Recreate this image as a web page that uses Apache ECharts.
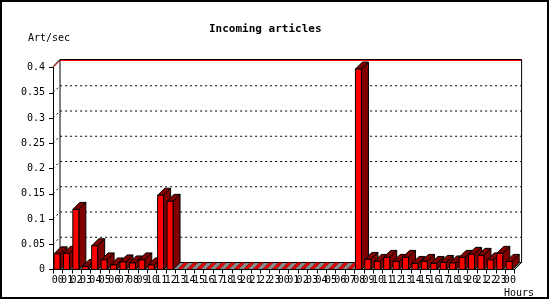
<!DOCTYPE html>
<html>
<head>
<meta charset="utf-8">
<script src="https://cdn.jsdelivr.net/npm/echarts@6/dist/echarts.min.js"></script>
<style>
html,body{margin:0;padding:0;background:#fff;}
#chart{width:550px;height:300px;}
</style>
</head>
<body>
<div id="chart"></div>
<script>
// ---- data ----
const hours = ['00','01','02','03','04','05','06','07','08','09','10','11','12','13','14','15','16','17','18','19','20','21','22','23',
               '00','01','02','03','04','05','06','07','08','09','10','11','12','13','14','15','16','17','18','19','20','21','22','23',
               '00'];
const artPerSec = [0.031,0.032,0.119,0.006,0.047,0.019,0.009,0.015,0.013,0.019,0.009,0.147,0.135,
                   null,null,null,null,null,null,null,null,null,null,null,
                   null,null,null,null,null,null,null,null,
                   0.397,0.020,0.016,0.024,0.016,0.024,0.012,0.016,0.012,0.014,0.013,0.024,0.030,0.028,0.019,0.032,
                   0.016];
const yTicks = [0,0.05,0.1,0.15,0.2,0.25,0.3,0.35,0.4];

const FONT = 'DejaVu Sans Mono';
const DX = 7, DY = -7;

const chart = echarts.init(document.getElementById('chart'), null, {renderer:'canvas'});

const barData = artPerSec.map((v,i)=>[i, v===null?0:v, v===null?1:0]);

function renderFrame(params, api){
  const cs = params.coordSys;
  const x = cs.x, w = cs.width;
  const yTop = api.coord([0, yTicks[yTicks.length-1]])[1];
  const yb = api.coord([0, 0])[1];
  const xr = x + w;
  const ch = [];
  ch.push({type:'polygon', shape:{points:[[x,yb],[xr,yb],[xr+DX,yb+DY],[x+DX,yb+DY]]},
           style:{fill:'#8c8c8c', stroke:null}});
  yTicks.forEach((t,k)=>{
    if (t === 0) return;
    const y = api.coord([0,t])[1];
    const isMax = k === yTicks.length-1;
    ch.push({type:'polyline', shape:{points:[[x,y],[x+DX,y+DY],[xr+DX,y+DY]]},
      style:{fill:null, stroke:isMax?'#ff0000':'#000', lineWidth:1, lineDash:isMax?null:[2,3]}});
  });
  ch.push({type:'polyline', shape:{points:[[x,yTop-1],[x+DX,yTop+DY-1],[xr+DX,yTop+DY-1],[xr+DX,yb+DY],[xr,yb]]},
           style:{fill:null, stroke:'#000', lineWidth:1}});
  ch.push({type:'line', shape:{x1:x+DX,y1:yTop+DY-1,x2:x+DX,y2:yb+DY},
           style:{stroke:'#000', lineWidth:1}});
  ch.push({type:'line', shape:{x1:x+DX,y1:yb+DY,x2:xr+DX,y2:yb+DY},
           style:{stroke:'#000', lineWidth:1}});
  return {type:'group', children:ch};
}

function renderBar(params, api){
  const i = api.value(0), v = api.value(1), missing = api.value(2);
  const top = api.coord([i, v]);
  const base = api.coord([i, 0])[1];
  const bw = api.size([1,0])[0];
  const L = top[0] - bw/2;
  const x0 = L + 1, x1 = L + 7;
  const yt = top[1];
  const ch = [];
  if (missing) {
    ch.push({type:'polygon', z2:i, shape:{points:[[x0+1,base],[x1-1,base],[x1-1+DX,base+DY],[x0+1+DX,base+DY]]},
             style:{fill:'#ee0000', stroke:'#400000', lineWidth:0.5}});
    return {type:'group', children:ch};
  }
  ch.push({type:'polygon', z2:i, shape:{points:[[x1,base],[x1,yt],[x1+DX,yt+DY],[x1+DX,base+DY]]},
           style:{fill:'#800000', stroke:'#000', lineWidth:1}});
  ch.push({type:'polygon', z2:i, shape:{points:[[x0,yt],[x1,yt],[x1+DX,yt+DY],[x0+DX,yt+DY]]},
           style:{fill:'#800000', stroke:'#000', lineWidth:1}});
  ch.push({type:'rect', z2:i, shape:{x:x0, y:yt, width:x1-x0, height:base-yt},
           style:{fill:'#ff0000', stroke:'#000', lineWidth:1}});
  return {type:'group', children:ch};
}

const option = {
  animation:false,
  backgroundColor:'#fff',
  title:{text:'Incoming articles', left:204, top:19,
    textStyle:{fontFamily:FONT, fontSize:11, fontWeight:'bold', color:'#000'}},
  grid:{left:53, top:67.5, width:461.6, height:202, containLabel:false},
  xAxis:{type:'category', data:hours, z:5,
    axisLine:{show:true, lineStyle:{color:'#000', width:1}},
    axisTick:{show:true, length:4, lineStyle:{color:'#000'}},
    axisLabel:{interval:0, color:'#000', fontFamily:FONT, fontSize:10, margin:6, hideOverlap:false},
    splitLine:{show:false}},
  yAxis:{type:'value', min:yTicks[0], max:yTicks[yTicks.length-1], interval:0.05, z:5,
    axisLine:{show:true, lineStyle:{color:'#000', width:1}},
    axisTick:{show:true, length:4, lineStyle:{color:'#000'}},
    axisLabel:{color:'#000', fontFamily:FONT, fontSize:10, margin:8},
    splitLine:{show:false}},
  graphic:[
    {type:'text', left:28, top:33, style:{text:'Art/sec', fontFamily:FONT, fontSize:10, fill:'#000'}},
    {type:'text', left:504, top:288, style:{text:'Hours', fontFamily:FONT, fontSize:10, fill:'#000'}},
    {type:'rect', shape:{x:1, y:1, width:547, height:297}, style:{fill:null, stroke:'#000', lineWidth:2}, z:10}
  ],
  series:[
    {type:'custom', z:1, data:[[0,0]], renderItem:renderFrame, silent:true, clip:false},
    {type:'custom', z:2, data:barData, renderItem:renderBar, silent:true, clip:false}
  ]
};
chart.setOption(option);
</script>
</body>
</html>
